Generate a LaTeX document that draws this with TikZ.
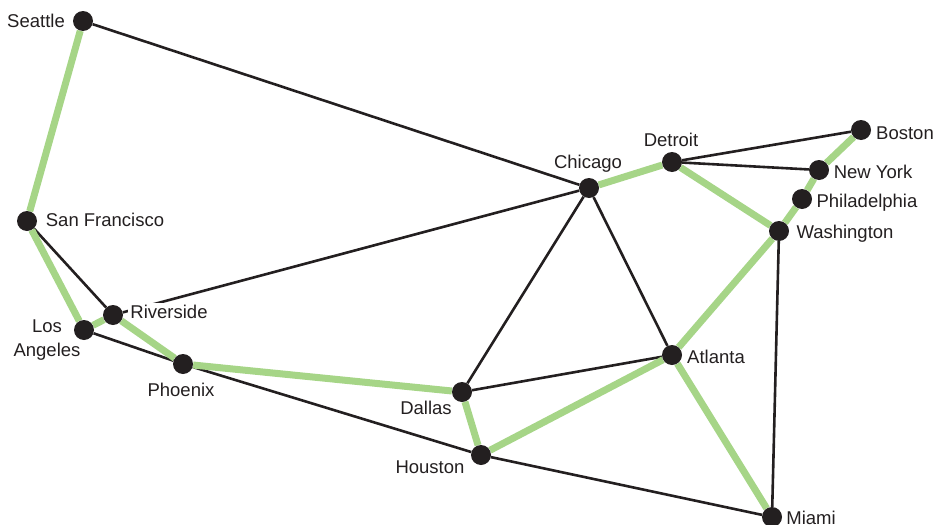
\documentclass[tikz,border=0pt]{standalone}
\usepackage{fontspec}
\setmainfont{Liberation Sans}
\usetikzlibrary{backgrounds}
\definecolor{inkblack}{RGB}{35,31,32}
\definecolor{routegreen}{RGB}{166,213,135}
\tikzset{
  city/.style={circle, fill=inkblack, minimum size=20pt, inner sep=0pt},
  lbl/.style={text=inkblack, font=\fontsize{18.5}{23.5}\selectfont, inner sep=1pt},
  road/.style={draw=inkblack, line width=2.6pt},
  greenroad/.style={draw=routegreen, line width=7pt},
}
\begin{document}
\begin{tikzpicture}[x=1pt, y=-1pt]
    \useasboundingbox (0,0) rectangle (938,525);
    % cities
    \node[city] (sea) at (83,21) {};
    \node[city] (sf) at (27,221) {};
    \node[city] (la) at (84,330) {};
    \node[city] (riv) at (113,315) {};
    \node[city] (phx) at (183,364) {};
    \node[city] (dal) at (462,392) {};
    \node[city] (hou) at (481,455) {};
    \node[city] (chi) at (589,188) {};
    \node[city] (det) at (672,162) {};
    \node[city] (bos) at (861,130) {};
    \node[city] (ny) at (819,170) {};
    \node[city] (phl) at (802,199) {};
    \node[city] (was) at (779,231) {};
    \node[city] (atl) at (672,355) {};
    \node[city] (mia) at (772,517) {};
    \begin{scope}[on background layer]
    \foreach \a/\b in {sea/chi, sf/riv, la/phx, phx/hou, hou/mia, riv/chi, chi/dal, chi/atl, dal/atl, det/bos, det/ny, was/mia}{
        \draw[road] (\a) -- (\b);
    }
    \foreach \a/\b in {sea/sf, sf/la, la/riv, riv/phx, phx/dal, dal/hou, hou/atl, atl/mia, atl/was, was/det, chi/det, was/phl, phl/ny, ny/bos}{
        \draw[greenroad] (\a) -- (\b);
    }
    \end{scope}
    % labels
    \node[lbl] (seaL) at (36,21) {Seattle};
    \node[lbl] (sfL) at (105,220) {San Francisco};
    \node[lbl, align=center] (laL) at (47,340) {Los\\Angeles};
    \node[lbl, fill=white, inner sep=2pt] (rivL) at (169,312) {Riverside};
    \node[lbl] (phxL) at (181,390) {Phoenix};
    \node[lbl] (dalL) at (426,408) {Dallas};
    \node[lbl] (houL) at (430,467) {Houston};
    \node[lbl] (chiL) at (588,164) {Chicago};
    \node[lbl] (detL) at (671,140) {Detroit};
    \node[lbl] (bosL) at (905,133) {Boston};
    \node[lbl] (nyL) at (873,172) {New York};
    \node[lbl] (phlL) at (867,203) {Philadelphia};
    \node[lbl] (wasL) at (845,234) {Washington};
    \node[lbl] (atlL) at (716,357) {Atlanta};
    \node[lbl] (miaL) at (811,518) {Miami};
\end{tikzpicture}
\end{document}
